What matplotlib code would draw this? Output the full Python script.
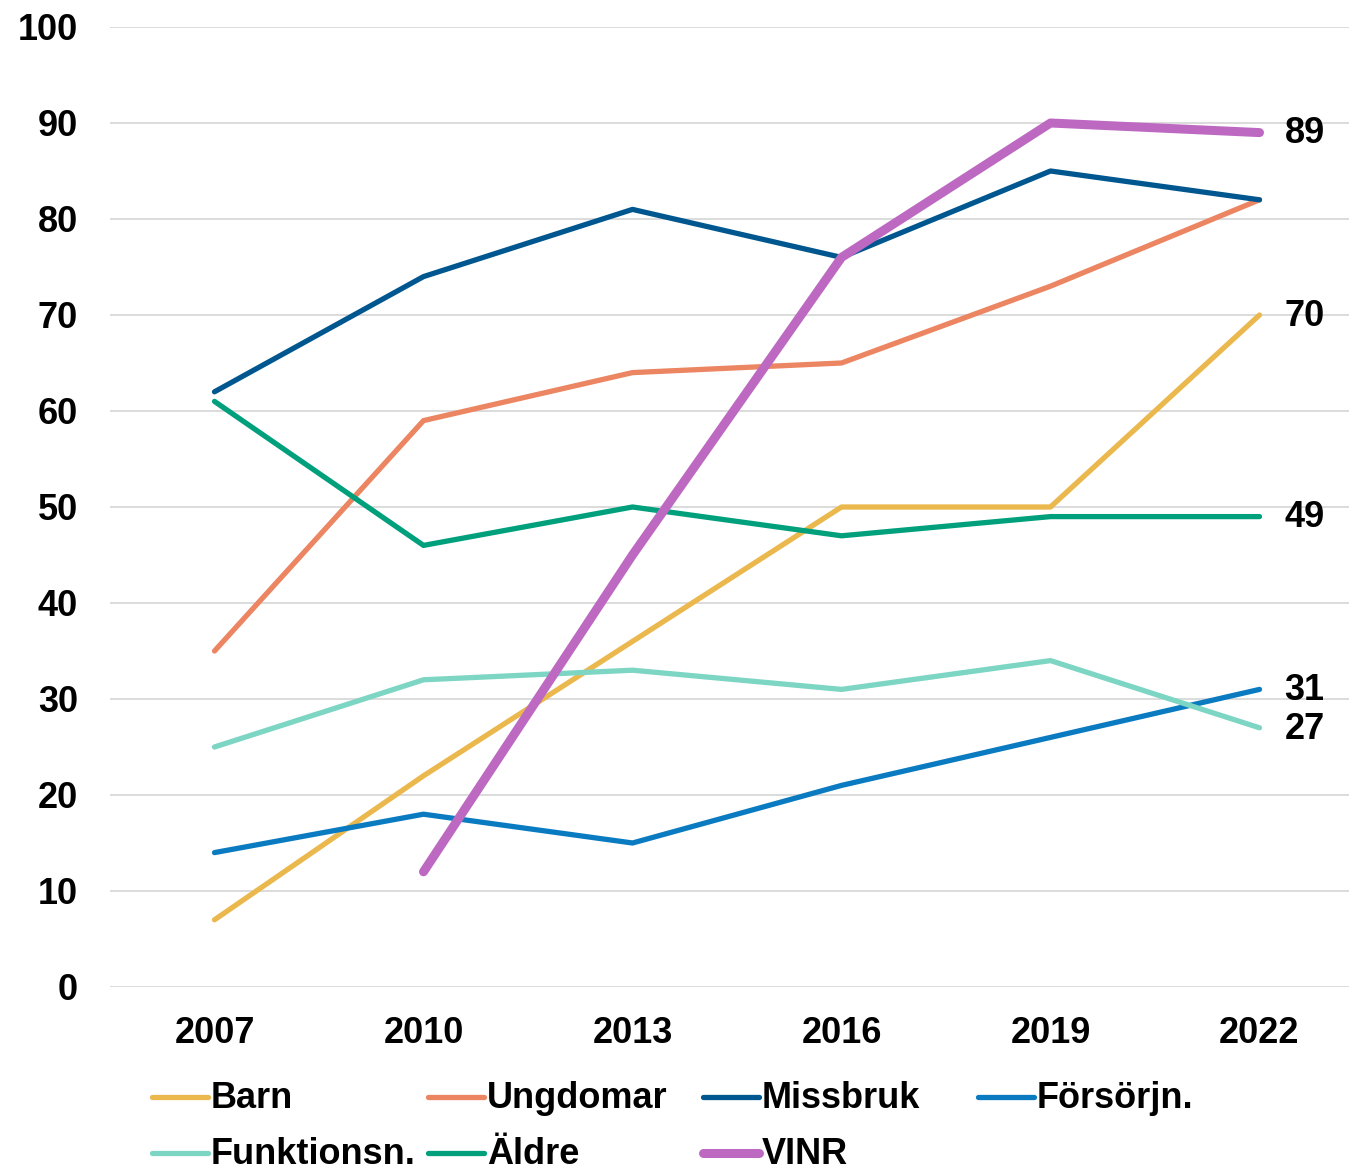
import matplotlib
matplotlib.use("Agg")
import matplotlib.pyplot as plt
from matplotlib.lines import Line2D
import numpy as np

plt.rcParams["font.family"] = ["Liberation Sans", "DejaVu Sans"]
plt.rcParams["font.weight"] = "bold"

years = ["2007", "2010", "2013", "2016", "2019", "2022"]

barn = [7, 22, 36, 50, 50, 70]
ungdomar = [35, 59, 64, 65, 73, 82]
missbruk = [62, 74, 81, 76, 85, 82]
forsorjn = [14, 18, 15, 21, 26, 31]
funktionsn = [25, 32, 33, 31, 34, 27]
aldre = [61, 46, 50, 47, 49, 49]
vinr = [np.nan, 12, 45, 76, 90, 89]

# name, values, colour, width, show end label
SERIES = [
    ("Barn", barn, "#EBB84E", 3.8, True),
    ("Ungdomar", ungdomar, "#EC8561", 3.8, False),
    ("Missbruk", missbruk, "#00578F", 3.8, False),
    ("Försörjn.", forsorjn, "#0A7BC1", 3.8, True),
    ("Funktionsn.", funktionsn, "#7DD5C4", 3.8, True),
    ("Äldre", aldre, "#00A07C", 3.8, True),
    ("VINR", vinr, "#BD69C2", 6.5, True),
]
FS = 26

W, H = 1349, 1168
fig = plt.figure(figsize=(W / 100, H / 100), dpi=100)
# plot area in pixels: x 110..1364 (cut at edge), y 27..987
ax = fig.add_axes([110 / W, (H - 987) / H, (1364.5 - 110.5) / W, 960 / H])

x = np.arange(len(years))
for name, vals, c, lw, lab in SERIES:
    ax.plot(x, vals, color=c, lw=lw, solid_capstyle="round",
            solid_joinstyle="round", zorder=3)
    if lab:
        ax.annotate(f"{vals[-1]:g}", (x[-1], vals[-1]), xytext=(18, -1),
                    textcoords="offset points", ha="left", va="center",
                    fontsize=FS, fontweight="bold", color="black")

ax.set_xlim(-0.5, len(years) - 0.5)
ax.set_ylim(0, 100)
ax.set_yticks(range(0, 101, 10))
ax.set_xticks(x, years)
ax.grid(axis="y", color="#D9D9D9", lw=1.3, zorder=0)
ax.set_axisbelow(True)
for s in ax.spines.values():
    s.set_visible(False)
ax.tick_params(axis="y", length=0, pad=23, labelsize=FS)
ax.tick_params(axis="x", length=0, pad=21, labelsize=FS)

# legend, Excel style: equal-width columns
col_x = [152, 428, 703, 978]
row_y = [1097, 1153]
for i, (name, vals, c, lw, lab) in enumerate(SERIES):
    cx = col_x[i % 4]
    ry = row_y[i // 4]
    fy = (H - ry) / H
    fig.add_artist(Line2D([cx / W, (cx + 56) / W], [fy, fy], color=c, lw=lw,
                          solid_capstyle="round", transform=fig.transFigure))
    fig.text((cx + 59) / W, fy - 2 / H, name, ha="left", va="center",
             fontsize=FS, fontweight="bold")

fig.savefig("out.png", dpi=100, facecolor="white")
